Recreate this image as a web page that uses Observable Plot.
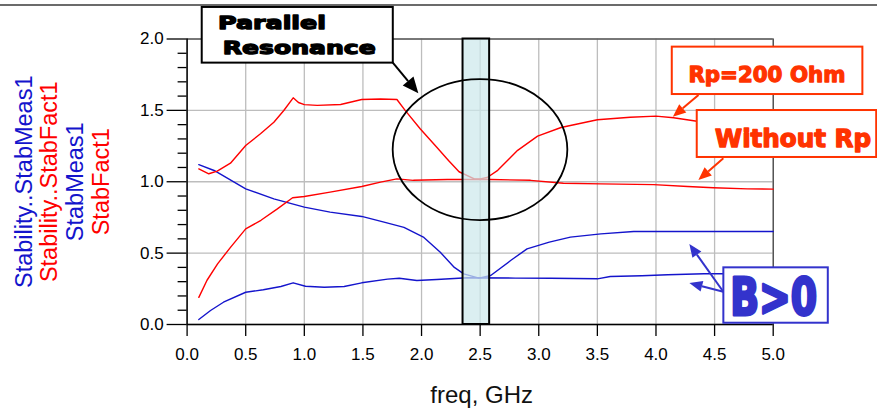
<!DOCTYPE html>
<html>
<head>
<meta charset="utf-8">
<script src="https://cdn.jsdelivr.net/npm/d3@7"></script>
<script src="https://cdn.jsdelivr.net/npm/@observablehq/plot@0.6"></script>
<style>
  html, body { margin: 0; padding: 0; background: #fff; }
</style>
</head>
<body>
<div id="chart"></div>
<script>
// ---- tick values ----
const xTicks = [0, 0.5, 1.0, 1.5, 2.0, 2.5, 3.0, 3.5, 4.0, 4.5, 5.0];
const yTicks = [0, 0.5, 1.0, 1.5, 2.0];
const yMinorTicks = [0.1, 0.2, 0.3, 0.4, 0.6, 0.7, 0.8, 0.9, 1.1, 1.2, 1.3, 1.4, 1.6, 1.7, 1.8, 1.9];

// ---- axis titles ----
const yTitles = ["Stability..StabMeas1", "Stability..StabFact1", "StabMeas1", "StabFact1"];
const xTitle = "freq, GHz";

// ---- series: StabFact1 with Rp = 200 Ohm (red, upper) ----
const rpFactFreq = [0.10, 0.185, 0.257, 0.37, 0.50, 0.626, 0.74, 0.825, 0.905, 0.95, 1.00, 1.11, 1.31, 1.49, 1.65, 1.79, 1.86, 1.99, 2.13, 2.23, 2.32, 2.45, 2.50, 2.56, 2.65, 2.82, 2.99, 3.19, 3.36, 3.50, 3.78, 4.00, 4.15, 4.35, 4.60, 4.80, 5.00];
const rpFact     = [1.09, 1.056, 1.074, 1.13, 1.254, 1.336, 1.417, 1.499, 1.588, 1.555, 1.54, 1.535, 1.541, 1.576, 1.58, 1.576, 1.50, 1.37, 1.242, 1.149, 1.07, 1.02, 1.02, 1.03, 1.08, 1.22, 1.32, 1.38, 1.41, 1.434, 1.452, 1.46, 1.448, 1.424, 1.40, 1.385, 1.375];

// ---- series: StabFact1 without Rp (red, lower) ----
const noRpFactFreq = [0.10, 0.17, 0.26, 0.37, 0.50, 0.63, 0.77, 0.90, 1.00, 1.22, 1.49, 1.65, 1.79, 1.93, 2.22, 2.59, 2.93, 3.21, 3.53, 3.98, 4.27, 4.49, 4.78, 5.00];
const noRpFact     = [0.19, 0.31, 0.425, 0.54, 0.67, 0.73, 0.81, 0.888, 0.897, 0.927, 0.967, 0.997, 1.02, 1.01, 1.016, 1.016, 1.01, 0.99, 0.985, 0.98, 0.967, 0.958, 0.95, 0.948];

// ---- series: StabMeas1 with Rp = 200 Ohm (blue, upper) ----
const rpMeasFreq = [0.10, 0.23, 0.50, 0.74, 1.00, 1.22, 1.49, 1.68, 1.85, 2.02, 2.16, 2.28, 2.36, 2.49, 2.59, 2.76, 2.90, 3.09, 3.27, 3.53, 3.81, 4.20, 4.60, 5.00];
const rpMeas     = [1.12, 1.079, 0.95, 0.88, 0.822, 0.787, 0.757, 0.717, 0.68, 0.61, 0.506, 0.40, 0.355, 0.325, 0.343, 0.448, 0.53, 0.577, 0.612, 0.635, 0.651, 0.652, 0.652, 0.652];

// ---- series: StabMeas1 without Rp (blue, lower) ----
const noRpMeasFreq = [0.10, 0.20, 0.31, 0.50, 0.65, 0.80, 0.905, 1.01, 1.17, 1.34, 1.49, 1.71, 1.81, 1.96, 2.13, 2.39, 2.80, 3.10, 3.50, 3.61, 3.88, 4.10, 4.41, 4.70, 5.00];
const noRpMeas     = [0.035, 0.098, 0.156, 0.226, 0.243, 0.266, 0.292, 0.268, 0.261, 0.266, 0.292, 0.318, 0.324, 0.308, 0.315, 0.327, 0.325, 0.324, 0.32, 0.336, 0.341, 0.348, 0.355, 0.355, 0.355];

// ---- annotations (data units) ----
const band = {x1: 2.354, x2: 2.581};
const circle = {cx: 2.503, cy: 1.222, rx: 0.745, ry: 0.494};
const noteBoxes = [
  {x1: 0.129, x2: 1.759, y1: 1.831, y2: 2.221, color: "#000000"},
  {x1: 4.139, x2: 5.765, y1: 1.611, y2: 1.943, color: "#ff3300"},
  {x1: 4.352, x2: 5.883, y1: 1.170, y2: 1.499, color: "#ff3300"},
  {x1: 4.579, x2: 5.470, y1: 0.009, y2: 0.397, color: "#3333cc"}
];
const noteArrows = [
  {x1: 1.759, y1: 1.831, x2: 1.977, y2: 1.616, color: "#000000"},
  {x1: 4.367, y1: 1.604, x2: 4.148, y2: 1.452, color: "#ff3300"},
  {x1: 4.579, y1: 1.161, x2: 4.366, y2: 1.009, color: "#ff3300"},
  {x1: 4.579, y1: 0.226, x2: 4.289, y2: 0.560, color: "#3333cc"},
  {x1: 4.579, y1: 0.226, x2: 4.289, y2: 0.287, color: "#3333cc"}
];
const noteTexts = [
  {text: "Parallel",   x: 0.268, y: 2.064, size: 18.5, width: 108, color: "#000000"},
  {text: "Resonance",  x: 0.308, y: 1.889, size: 18.5, width: 153, color: "#000000"},
  {text: "Rp=200 Ohm", x: 4.281, y: 1.697, size: 22,   width: 157, color: "#ff3300"},
  {text: "Without Rp", x: 4.508, y: 1.243, size: 24,   width: 156, color: "#ff3300"},
  {text: "B>0",        x: 4.637, y: 0.063, size: 51,   width: 87,  color: "#3333cc"}
];

const RED = "#ff0000";
const BLUE = "#1414cc";

function annotations(index, scales, values, dimensions) {
  const {x, y} = scales;
  const g = d3.create("svg:g");
  // figure top border
  g.append("line")
    .attr("x1", 0).attr("x2", dimensions.width)
    .attr("y1", 5).attr("y2", 5)
    .attr("stroke", "#3a3a3a").attr("stroke-width", 1.6);
  // highlighted band
  g.append("rect")
    .attr("x", x(band.x1)).attr("width", x(band.x2) - x(band.x1))
    .attr("y", y(2)).attr("height", y(0) - y(2))
    .attr("fill", "#cde9ec").attr("fill-opacity", 0.72)
    .attr("stroke", "#000").attr("stroke-width", 2);
  // ellipse
  const cx = x(circle.cx), cy = y(circle.cy);
  g.append("ellipse")
    .attr("cx", cx).attr("cy", cy)
    .attr("rx", x(circle.cx + circle.rx) - cx)
    .attr("ry", cy - y(circle.cy + circle.ry))
    .attr("fill", "none").attr("stroke", "#000").attr("stroke-width", 1.8);
  // arrows
  for (const a of noteArrows) {
    const x1 = x(a.x1), y1 = y(a.y1), x2 = x(a.x2), y2 = y(a.y2);
    const ang = Math.atan2(y2 - y1, x2 - x1);
    const L = a.color === "#000000" ? 16 : 13, W = a.color === "#000000" ? 7 : 5.5;
    const bx = x2 - L * Math.cos(ang), by = y2 - L * Math.sin(ang);
    g.append("line")
      .attr("x1", x1).attr("y1", y1).attr("x2", bx).attr("y2", by)
      .attr("stroke", a.color).attr("stroke-width", 2);
    const px = -Math.sin(ang) * W, py = Math.cos(ang) * W;
    g.append("path")
      .attr("d", `M${x2},${y2}L${bx + px},${by + py}L${bx - px},${by - py}Z`)
      .attr("fill", a.color);
  }
  // boxes
  for (const b of noteBoxes) {
    g.append("rect")
      .attr("x", x(b.x1)).attr("width", x(b.x2) - x(b.x1))
      .attr("y", y(b.y2)).attr("height", y(b.y1) - y(b.y2))
      .attr("fill", "#fff").attr("stroke", b.color).attr("stroke-width", 2);
  }
  // texts
  for (const t of noteTexts) {
    g.append("text")
      .attr("x", x(t.x)).attr("y", y(t.y))
      .attr("text-anchor", "start")
      .attr("font-family", "'DejaVu Sans', sans-serif")
      .attr("font-weight", "bold")
      .attr("font-size", t.size)
      .attr("fill", t.color).attr("stroke", t.color)
      .attr("stroke-width", t.size > 40 ? 3 : 1.3)
      .attr("stroke-linejoin", "round")
      .attr("textLength", t.width).attr("lengthAdjust", "spacingAndGlyphs")
      .text(t.text);
  }
  return g.node();
}

const fmt = d3.format(".1f");
const yTitleColors = [BLUE, RED, BLUE, RED];
const yTitleOffsets = [-163, -138, -111.6, -85.6];

const plot = Plot.plot({
  width: 877,
  height: 410,
  marginLeft: 186.6,
  marginRight: 104.3,
  marginTop: 38.5,
  marginBottom: 86,
  x: {domain: [0, 5], label: null},
  y: {domain: [0, 2], label: null},
  style: {
    fontFamily: "'Liberation Sans', Arial, sans-serif",
    fontSize: "17px",
    color: "#000",
    background: "#fff",
    overflow: "visible"
  },
  marks: [
    Plot.gridX({ticks: xTicks, stroke: "#bdbdbd", strokeOpacity: 1, strokeWidth: 1.3}),
    Plot.gridY({ticks: yTicks, stroke: "#bdbdbd", strokeOpacity: 1, strokeWidth: 1.3}),
    Plot.ruleY([2], {stroke: "#222", strokeWidth: 1}),
    Plot.ruleX([5], {stroke: "#222", strokeWidth: 1}),
    Plot.axisX({ticks: xTicks, tickSize: 12, tickPadding: 11, tickFormat: fmt, fontSize: 17, label: null, strokeWidth: 1.3}),
    Plot.axisY({ticks: yTicks, tickSize: 20, tickPadding: 3.5, tickFormat: fmt, fontSize: 17, label: null, strokeWidth: 1.3}),
    Plot.axisY({ticks: yMinorTicks, tickSize: 9, tickFormat: () => "", label: null, strokeWidth: 1.3}),
    Plot.ruleX([0], {stroke: "#000", strokeWidth: 1.5}),
    Plot.ruleY([0], {stroke: "#000", strokeWidth: 1.5}),
    Plot.line(noRpMeasFreq, {x: noRpMeasFreq, y: noRpMeas, stroke: BLUE, strokeWidth: 1.4}),
    Plot.line(rpMeasFreq, {x: rpMeasFreq, y: rpMeas, stroke: BLUE, strokeWidth: 1.4}),
    Plot.line(noRpFactFreq, {x: noRpFactFreq, y: noRpFact, stroke: RED, strokeWidth: 1.4}),
    Plot.line(rpFactFreq, {x: rpFactFreq, y: rpFact, stroke: RED, strokeWidth: 1.4}),
    annotations,
    ...yTitles.map((t, i) => Plot.text([t], {
      frameAnchor: "left", dx: yTitleOffsets[i], rotate: -90,
      textAnchor: "middle", lineAnchor: "middle",
      fontSize: 23.5, fill: yTitleColors[i], text: d => d
    })),
    Plot.text([xTitle], {
      frameAnchor: "bottom", dy: 71, dx: 1.5, lineAnchor: "middle",
      fontSize: 24, fill: "#111", text: d => d
    })
  ]
});
document.getElementById("chart").appendChild(plot);
</script>
</body>
</html>
